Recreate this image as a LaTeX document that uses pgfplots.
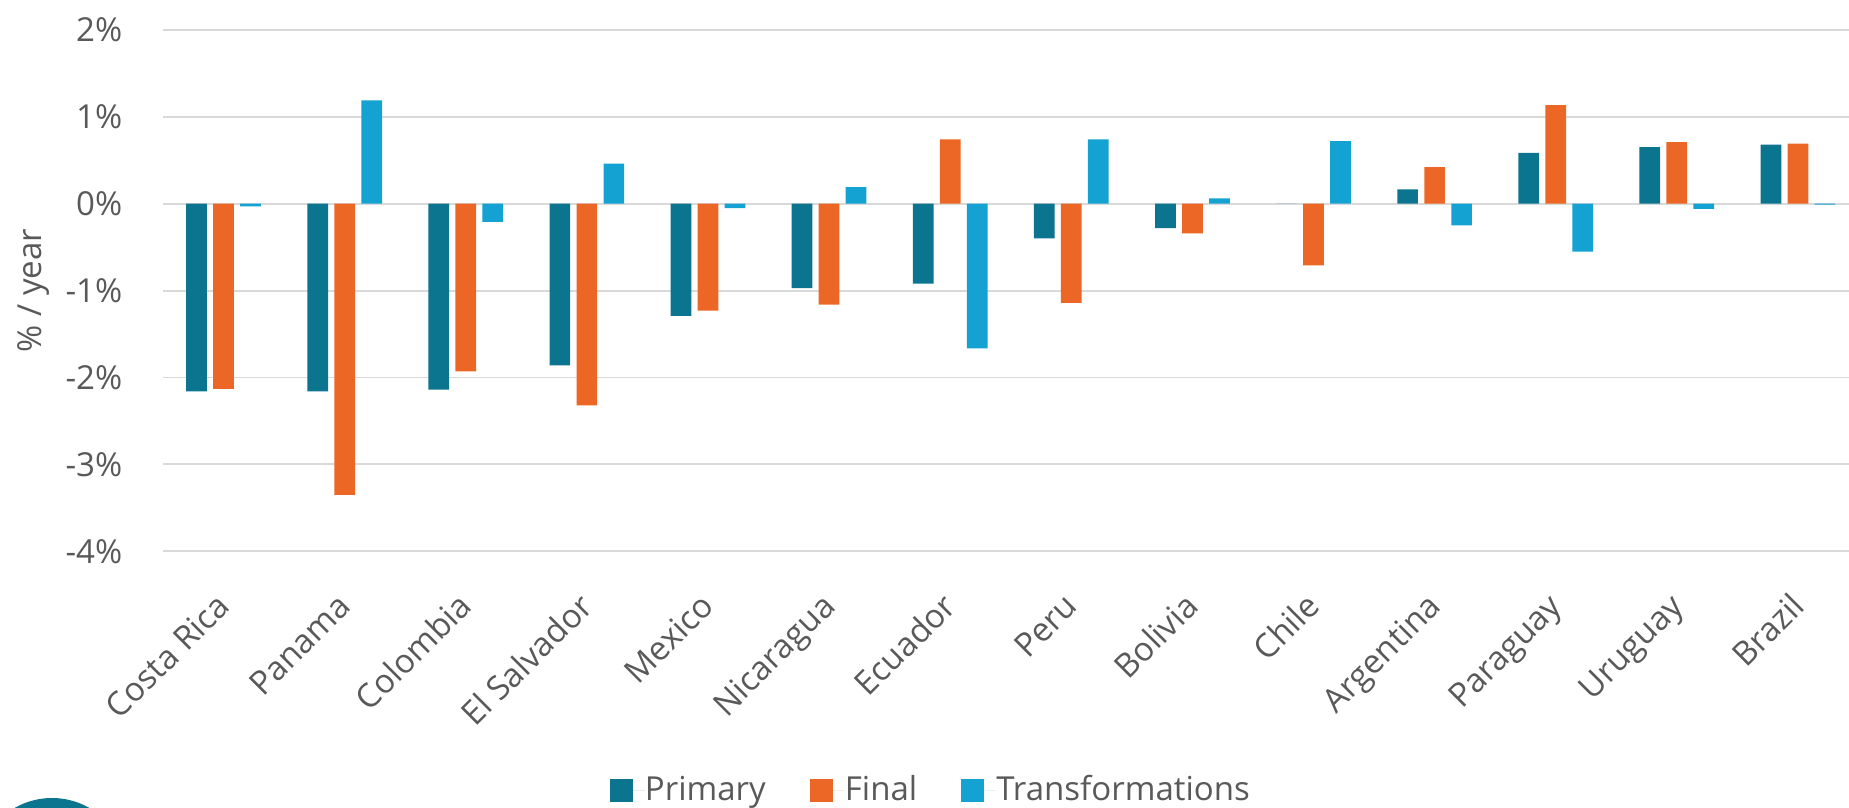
\documentclass[border=0pt]{standalone}
\usepackage{pgfplots}
\pgfplotsset{compat=1.18}
\usepackage{fontspec}
\setmainfont{Open Sans}
\definecolor{cprim}{HTML}{0B7590}
\definecolor{cfin}{HTML}{EC6726}
\definecolor{ctra}{HTML}{14A2D3}
\definecolor{ctxt}{HTML}{595959}
\definecolor{cgrid}{HTML}{D9D9D9}

\begin{document}
\fontsize{9.4pt}{11.3pt}\selectfont
\begin{tikzpicture}
\begin{axis}[
    at={(16.3mm,-55.13mm)}, anchor=south west,
    scale only axis,
    width=169.55mm, height=52.14mm,
    xmin=-0.5, xmax=13.5,
    ymin=-4, ymax=2,
    axis line style={draw=none},
    major tick length=0pt,
    ymajorgrids,
    major grid style={cgrid, line width=0.55pt},
    xtick={0,...,13},
    xticklabels={Costa Rica,Panama,Colombia,El Salvador,Mexico,Nicaragua,Ecuador,Peru,Bolivia,Chile,Argentina,Paraguay,Uruguay,Brazil},
    ytick={-4,-3,-2,-1,0,1,2},
    yticklabels={-4\%,-3\%,-2\%,-1\%,0\%,1\%,2\%},
    xticklabel style={text=ctxt, inner sep=0pt, xshift=0.85mm, yshift=-5.67mm, rotate=45, anchor=base east},
    yticklabel style={text=ctxt, inner sep=0pt, anchor=east, xshift=-4mm},
    ylabel={\% / year},
    ylabel style={text=ctxt, at={(axis description cs:-0.0761,0.5)}, anchor=center, inner sep=0pt},
    legend columns=3,
    legend style={at={(axis description cs:0.2636,-0.4588)}, anchor=west,
        draw=none, fill=none, inner sep=0pt, outer sep=0pt, text=ctxt,
        nodes={inner sep=0pt},
        /tikz/every even column/.append style={column sep=4.4mm}},
    legend image code/.code={\fill[#1] (0mm,-1.135mm) rectangle (2.27mm,1.135mm);
        \path (0mm,0mm) -- (3.5mm,0mm);},
]
\addplot[ybar, bar width=0.171, bar shift=-0.223, fill=cprim, draw=none] coordinates {
  (0,-2.16) (1,-2.16) (2,-2.14) (3,-1.86) (4,-1.29) (5,-0.97) (6,-0.92)
  (7,-0.40) (8,-0.28) (9,0) (10,0.165) (11,0.585) (12,0.65) (13,0.68)};
\addlegendentry{Primary}
\addplot[ybar, bar width=0.171, bar shift=0, fill=cfin, draw=none] coordinates {
  (0,-2.13) (1,-3.35) (2,-1.93) (3,-2.32) (4,-1.23) (5,-1.16) (6,0.74)
  (7,-1.14) (8,-0.34) (9,-0.71) (10,0.42) (11,1.135) (12,0.71) (13,0.69)};
\addlegendentry{Final}
\addplot[ybar, bar width=0.171, bar shift=0.223, fill=ctra, draw=none] coordinates {
  (0,-0.03) (1,1.19) (2,-0.21) (3,0.46) (4,-0.05) (5,0.19) (6,-1.665)
  (7,0.74) (8,0.06) (9,0.72) (10,-0.25) (11,-0.55) (12,-0.06) (13,-0.01)};
\addlegendentry{Transformations}
\end{axis}
\fill[cprim] (5.2mm,-87.3mm) circle (7.5mm);
\pgfresetboundingbox
\path (0mm,0mm) rectangle (184.9mm,-80.8mm);
\end{tikzpicture}
\end{document}
